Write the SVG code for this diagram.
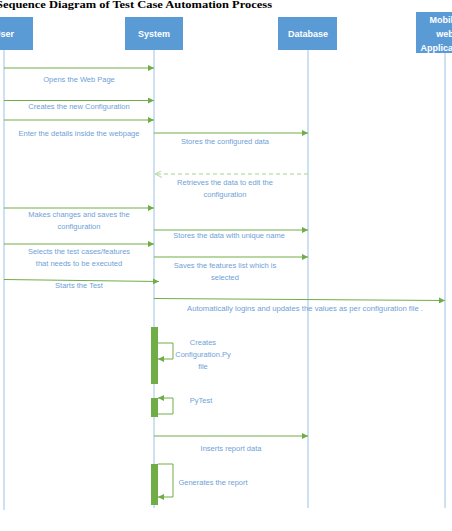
<svg xmlns="http://www.w3.org/2000/svg" width="452" height="531" viewBox="0 0 452 531">
<style>
.title{font-family:"Liberation Serif",serif;font-weight:bold;font-size:11px;fill:#000}
.box{fill:#5b9bd5}
.bt{font-family:"Liberation Sans",Arial,sans-serif;font-weight:bold;font-size:9px;fill:#fff;text-anchor:middle}
.life{stroke:#9dc3e6;stroke-width:1;fill:none}
.msg{stroke:#70ad47;stroke-width:1;fill:none;marker-end:url(#ah)}
.ret{stroke:#a9d18e;stroke-width:1;fill:none;stroke-dasharray:4 3;marker-end:url(#oh)}
.lbl{font-family:"Liberation Sans",Arial,sans-serif;font-size:7.5px;fill:#6f9fd8;text-anchor:middle}
.bar{fill:#70ad47}
</style>
<defs>
<marker id="ah" viewBox="0 0 10 10" refX="10" refY="5" markerWidth="6" markerHeight="6" markerUnits="userSpaceOnUse" orient="auto"><path d="M0,0 L10,5 L0,10 z" fill="#70ad47"/></marker>
<marker id="oh" viewBox="0 0 10 10" refX="10" refY="5" markerWidth="7" markerHeight="7" markerUnits="userSpaceOnUse" orient="auto"><path d="M0,0 L10,5 L0,10" fill="none" stroke="#a9d18e" stroke-width="1.3"/></marker>
</defs>
<rect width="452" height="531" fill="#fff"/>
<text class="title" x="-4" y="8" textLength="276" lengthAdjust="spacingAndGlyphs">Sequence Diagram of Test Case Automation Process</text>

<g id="lifelines">
<line class="life" x1="4" y1="50" x2="4" y2="510"/>
<line class="life" x1="154" y1="50" x2="154" y2="508"/>
<line class="life" x1="308" y1="50" x2="308" y2="508"/>
<line class="life" x1="445" y1="53" x2="445" y2="508"/>
</g>

<g id="user"><rect class="box" x="-25" y="17" width="58" height="33"/><text class="bt" x="4" y="37">User</text></g>
<g id="system"><rect class="box" x="125" y="17" width="58" height="33"/><text class="bt" x="154" y="37">System</text></g>
<g id="database"><rect class="box" x="278" y="17" width="59" height="33"/><text class="bt" x="308" y="37">Database</text></g>
<g id="mobile"><rect class="box" x="416" y="12" width="60" height="41"/><text class="bt" x="445" y="23">Mobile/</text><text class="bt" x="445" y="37">web</text><text class="bt" x="445" y="51">Application</text></g>

<g id="activations">
<rect class="bar" x="151" y="327" width="7" height="57"/>
<rect class="bar" x="151" y="398" width="7" height="19"/>
<rect class="bar" x="151" y="464" width="7" height="41"/>
</g>

<g id="connectors">
<line class="msg" x1="4" y1="68" x2="154" y2="68"/>
<line class="msg" x1="4" y1="100.5" x2="154" y2="100.5"/>
<line class="msg" x1="4" y1="120" x2="154" y2="120"/>
<line class="msg" x1="154" y1="133" x2="308" y2="133"/>
<line class="ret" x1="308" y1="174" x2="155" y2="174"/>
<line class="msg" x1="4" y1="208" x2="154" y2="208"/>
<line class="msg" x1="154" y1="230" x2="308" y2="230"/>
<line class="msg" x1="4" y1="244" x2="154" y2="244"/>
<line class="msg" x1="154" y1="257" x2="308" y2="257"/>
<line class="msg" x1="4" y1="279.5" x2="159" y2="281.5"/>
<line class="msg" x1="154" y1="298.5" x2="445" y2="300.5"/>
<polyline class="msg" points="158,343 173,343 173,359 158,359"/>
<polyline class="msg" points="158,414 173,414 173,398 158,398"/>
<line class="msg" x1="154" y1="436" x2="308" y2="436"/>
<polyline class="msg" points="158,464 173,464 173,497 158,497"/>
</g>

<g id="labels">
<text class="lbl" x="79" y="82">Opens the Web Page</text>
<text class="lbl" x="79" y="109">Creates the new Configuration</text>
<text class="lbl" x="79" y="136">Enter the details inside the webpage</text>
<text class="lbl" x="225" y="144">Stores the configured data</text>
<text class="lbl" x="225" y="185">Retrieves the data to edit the</text>
<text class="lbl" x="225" y="197">configuration</text>
<text class="lbl" x="79" y="217">Makes changes and saves the</text>
<text class="lbl" x="79" y="229">configuration</text>
<text class="lbl" x="229" y="238">Stores the data with unique name</text>
<text class="lbl" x="79" y="254">Selects the test cases/features</text>
<text class="lbl" x="79" y="266">that needs to be executed</text>
<text class="lbl" x="225" y="268">Saves the features list which is</text>
<text class="lbl" x="225" y="280">selected</text>
<text class="lbl" x="79" y="288">Starts the Test</text>
<text class="lbl" x="305" y="311" textLength="236" lengthAdjust="spacingAndGlyphs">Automatically logins and updates the values as per configuration file .</text>
<text class="lbl" x="203" y="345">Creates</text>
<text class="lbl" x="203" y="357">Configuration.Py</text>
<text class="lbl" x="203" y="369">file</text>
<text class="lbl" x="201" y="403">PyTest</text>
<text class="lbl" x="231" y="451">Inserts report data</text>
<text class="lbl" x="213" y="485">Generates the report</text>
</g>
</svg>
